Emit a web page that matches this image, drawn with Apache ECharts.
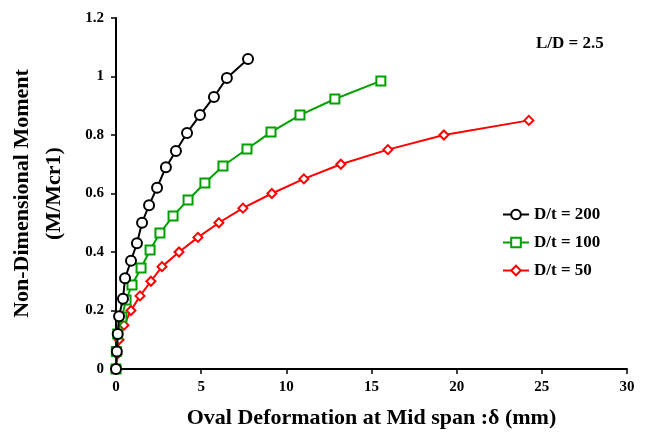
<!DOCTYPE html>
<html>
<head>
<meta charset="utf-8">
<script src="https://cdn.jsdelivr.net/npm/echarts@6/dist/echarts.min.js"></script>
<style>
  html, body { margin: 0; padding: 0; background: #fff; }
  #chart { width: 648px; height: 433px; }
</style>
</head>
<body>
<div id="chart"></div>
<script>
// values: [deformation mm, M/Mcr1]
var dt200 = [
  [0, 0], [0.05, 0.06], [0.1, 0.12], [0.18, 0.18], [0.41, 0.24], [0.53, 0.31],
  [0.88, 0.37], [1.23, 0.43], [1.53, 0.5], [1.94, 0.56], [2.41, 0.62],
  [2.93, 0.69], [3.52, 0.745], [4.17, 0.807], [4.93, 0.868], [5.75, 0.93],
  [6.51, 0.995], [7.75, 1.06]
];
var dt100 = [
  [0, 0], [0.02, 0.06], [0.1, 0.12], [0.35, 0.178], [0.59, 0.236], [0.94, 0.287],
  [1.47, 0.345], [2.0, 0.407], [2.58, 0.465], [3.35, 0.523], [4.23, 0.578],
  [5.22, 0.636], [6.28, 0.694], [7.69, 0.752], [9.1, 0.81], [10.8, 0.868],
  [12.85, 0.923], [15.55, 0.985]
];
var dt50 = [
  [0, 0], [0.06, 0.05], [0.18, 0.1], [0.47, 0.15], [0.88, 0.2], [1.41, 0.25],
  [2.05, 0.3], [2.7, 0.35], [3.7, 0.4], [4.81, 0.45], [6.04, 0.5],
  [7.45, 0.55], [9.15, 0.6], [11.03, 0.65], [13.2, 0.7], [15.96, 0.75],
  [19.25, 0.8], [24.24, 0.85]
];
var seriesNames = ["D/t = 200", "D/t = 100", "D/t = 50"];
var seriesColors = ["#000000", "#00a000", "#ff0000"];
var seriesSymbols = ["emptyCircle", "emptyRect", "emptyDiamond"];
var seriesData = [dt200, dt100, dt50];

var font = "'Liberation Serif', 'Times New Roman', serif";

var option = {
  animation: false,
  backgroundColor: "#fff",
  textStyle: { fontFamily: font },
  grid: { left: 116, right: 21, top: 18, bottom: 64, outerBoundsMode: "none", containLabel: false },
  legend: {
    orient: "vertical",
    left: 497,
    top: 201,
    itemWidth: 26,
    itemHeight: 12,
    itemGap: 11,
    textStyle: { fontFamily: font, fontWeight: "bold", fontSize: 17, color: "#000" },
    data: seriesNames
  },
  graphic: [{
    type: "text",
    left: 536,
    top: 35,
    style: { text: "L/D = 2.5", font: "bold 17px " + font, fill: "#000" }
  }],
  xAxis: {
    type: "value",
    min: 0, max: 30, interval: 5,
    name: "Oval Deformation at Mid span :\u03b4 (mm)",
    nameLocation: "middle",
    nameGap: 38,
    nameTextStyle: { fontFamily: font, fontWeight: "bold", fontSize: 22, color: "#000" },
    axisLine: { lineStyle: { color: "#000", width: 2 } },
    axisTick: { lineStyle: { color: "#000", width: 1.5 }, length: 5 },
    axisLabel: { fontFamily: font, fontWeight: "bold", fontSize: 15, color: "#000", margin: 11 },
    splitLine: { show: false }
  },
  yAxis: {
    type: "value",
    min: 0, max: 1.2, interval: 0.2,
    name: "Non-Dimensional Moment\n(M/Mcr1)",
    nameLocation: "middle",
    nameRotate: 90,
    nameGap: 46,
    nameTextStyle: { fontFamily: font, fontWeight: "bold", fontSize: 22, color: "#000", lineHeight: 32 },
    axisLine: { show: true, lineStyle: { color: "#000", width: 2 } },
    axisTick: { show: true, lineStyle: { color: "#000", width: 1.5 }, length: 5 },
    axisLabel: { fontFamily: font, fontWeight: "bold", fontSize: 15, color: "#000", margin: 12 },
    splitLine: { show: false }
  },
  series: []
};

for (var i = 0; i < seriesData.length; i++) {
  option.series.push({
    name: seriesNames[i],
    type: "line",
    data: seriesData[i],
    symbol: seriesSymbols[i],
    symbolSize: i === 0 ? 10 : 9,
    smooth: false,
    lineStyle: { color: seriesColors[i], width: 2 },
    itemStyle: { color: seriesColors[i], borderColor: seriesColors[i], borderWidth: 2 },
    z: 3 - i
  });
}

var chart = echarts.init(document.getElementById("chart"));
chart.setOption(option);
</script>
</body>
</html>
